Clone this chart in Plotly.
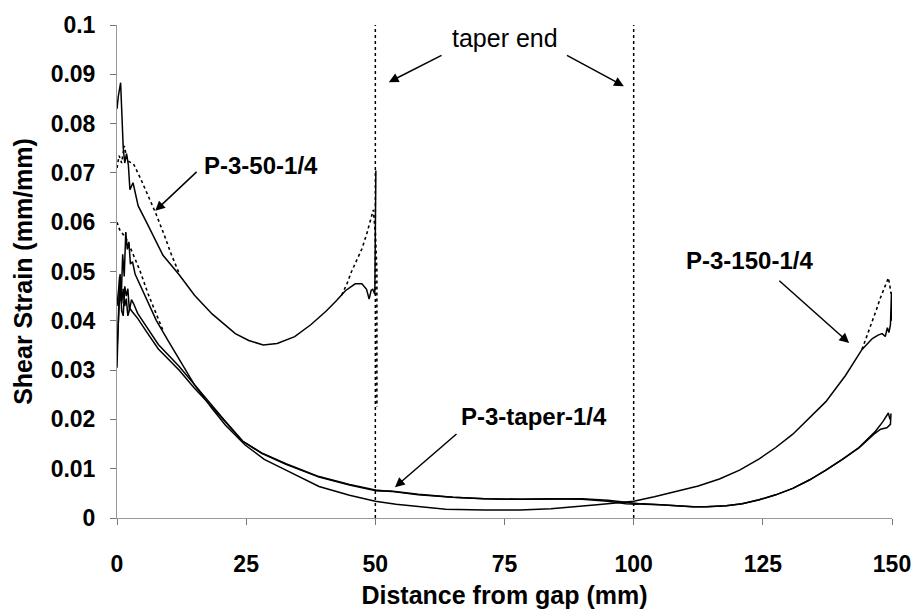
import plotly.graph_objects as go

# ---------------- data ----------------
p50_x = [0, 0.25, 0.7, 1.0, 1.2, 1.5, 1.85, 2.2, 2.5, 3.1, 4.1, 5.7, 8.9, 12.0, 15.0, 18.4, 22.9, 25.5, 28.3, 31.0, 34.4, 37.5, 40.5, 42.5, 44.2, 46.1, 47.4, 48.3, 48.8, 49.2, 49.5, 49.9, 50.1]
p50_y = [0.083, 0.0855, 0.0883, 0.082, 0.0752, 0.072, 0.0739, 0.0716, 0.0666, 0.068, 0.0633, 0.060, 0.0533, 0.0494, 0.0452, 0.0414, 0.0374, 0.0360, 0.0351, 0.0354, 0.0368, 0.0392, 0.0420, 0.0441, 0.0461, 0.0475, 0.0475, 0.0464, 0.0444, 0.0462, 0.0464, 0.0454, 0.0705]

p50d_left_x = [0, 0.4, 0.9, 1.4, 2.0, 2.6, 3.2, 4.5, 6.0, 7.5, 9.0, 10.5, 12.0]
p50d_left_y = [0.071, 0.0735, 0.072, 0.0755, 0.0725, 0.0722, 0.0718, 0.069, 0.0655, 0.0618, 0.0578, 0.0535, 0.0497]
p50d_right_x = [43.5, 44.5, 45.4, 46.5, 47.4, 48.3, 49.0, 49.6, 50.0, 50.3, 50.3]
p50d_right_y = [0.0452, 0.0475, 0.050, 0.0525, 0.0546, 0.0575, 0.0600, 0.0625, 0.058, 0.050, 0.0225]

p150_x = [0, 0.2, 0.5, 0.8, 1.1, 1.4, 1.7, 2.0, 2.3, 2.6, 3.0, 3.5, 4.4, 6.0, 7.6, 10.0, 12.05, 15.0, 18.4, 21.0, 24.8, 28.5, 32.7, 39.1, 45.0, 50.0, 54.0, 58.3, 63.6, 71.1, 78.0, 84.0, 88.0, 92.9, 97.0, 100.0, 104.0, 108.3, 112.5, 116.6, 120.5, 124.3, 127.5, 130.8, 134.0, 137.2, 141.0, 144.2, 146.2, 147.3, 148.1, 148.7, 149.1, 149.4, 149.7, 149.9, 150.0]
p150_y = [0.0305, 0.037, 0.049, 0.044, 0.0535, 0.049, 0.058, 0.0545, 0.056, 0.0515, 0.052, 0.0495, 0.0474, 0.0435, 0.0401, 0.0358, 0.0321, 0.0270, 0.0222, 0.0188, 0.0148, 0.0119, 0.0097, 0.0064, 0.0046, 0.0034, 0.0028, 0.0023, 0.0018, 0.0016, 0.0016, 0.0019, 0.0022, 0.0027, 0.0031, 0.0034, 0.0043, 0.0054, 0.0065, 0.0079, 0.0097, 0.0120, 0.0143, 0.0170, 0.0202, 0.0236, 0.0289, 0.0342, 0.0364, 0.0371, 0.0374, 0.0368, 0.0386, 0.0376, 0.0392, 0.0458, 0.0400]

p150d_left_x = [0, 0.5, 1.2, 2.0, 3.2, 4.5, 6.0, 7.5, 9.0]
p150d_left_y = [0.060, 0.0585, 0.0575, 0.0562, 0.0533, 0.050, 0.0455, 0.0418, 0.0378]
p150d_right_x = [144.2, 145.2, 146.2, 147.0, 147.7, 148.5, 149.3, 149.6, 149.8]
p150d_right_y = [0.0342, 0.037, 0.040, 0.0423, 0.0445, 0.0467, 0.0487, 0.047, 0.0455]

taperA_x = [0, 0.3, 0.6, 0.9, 1.2, 1.5, 1.8, 2.1, 2.4, 2.8, 3.2, 4.0, 5.7, 8.0, 12.0, 15.0, 18.4, 21.0, 24.3, 28.0, 32.7, 39.1, 45.0, 50.0, 53.0, 58.3, 65.0, 71.1, 78.0, 84.0, 90.0, 95.0, 98.0, 100.0, 102.0, 105.1, 108.0, 111.5, 114.0, 117.9, 121.0, 124.3, 127.5, 130.8, 134.0, 137.2, 140.4, 143.6, 146.8, 148.2, 149.3, 149.6]
taperA_y = [0.043, 0.046, 0.0495, 0.042, 0.041, 0.047, 0.045, 0.0465, 0.042, 0.0443, 0.0435, 0.0415, 0.0388, 0.0352, 0.0308, 0.0270, 0.0229, 0.0196, 0.0156, 0.0132, 0.0110, 0.0084, 0.0068, 0.0057, 0.0054, 0.0047, 0.0042, 0.0039, 0.0038, 0.0039, 0.0039, 0.0036, 0.0033, 0.0030, 0.0028, 0.0027, 0.0025, 0.0023, 0.0023, 0.0025, 0.0029, 0.0037, 0.0047, 0.0060, 0.0077, 0.0097, 0.0119, 0.0143, 0.0176, 0.0195, 0.0213, 0.0200]

taperB_x = [0, 0.3, 0.6, 0.9, 1.2, 1.5, 1.8, 2.1, 2.5, 3.0, 4.0, 5.7, 8.0, 12.0, 15.0, 18.4, 21.0, 24.3, 28.0, 32.7, 39.1, 45.0, 49.0, 50.5, 53.0, 58.3, 65.0, 71.1, 78.0, 84.0, 90.0, 95.0, 98.5, 100.5, 102.0, 105.1, 108.0, 111.5, 114.0, 117.9, 121.0, 124.3, 127.5, 130.8, 134.0, 137.2, 140.4, 143.6, 146.5, 147.8, 149.0, 149.7, 149.8]
taperB_y = [0.034, 0.042, 0.047, 0.0435, 0.0465, 0.043, 0.0445, 0.041, 0.0425, 0.0418, 0.0405, 0.0378, 0.0343, 0.0300, 0.0263, 0.0225, 0.0194, 0.0156, 0.0131, 0.0109, 0.0083, 0.0067, 0.0058, 0.0055, 0.0055, 0.0048, 0.0042, 0.0039, 0.0038, 0.0039, 0.0038, 0.0034, 0.0029, 0.0028, 0.0029, 0.0027, 0.0025, 0.0023, 0.0023, 0.0025, 0.0029, 0.0037, 0.0047, 0.0060, 0.0077, 0.0097, 0.0119, 0.0142, 0.0170, 0.0180, 0.0183, 0.0190, 0.0212]

taper_end_x = [50, 100]
y_range = [0, 0.1]
x_range = [0, 150]
x_ticks = [0, 25, 50, 75, 100, 125, 150]
y_ticks = [0, 0.01, 0.02, 0.03, 0.04, 0.05, 0.06, 0.07, 0.08, 0.09, 0.1]
y_ticktext = ["0", "0.01", "0.02", "0.03", "0.04", "0.05", "0.06", "0.07", "0.08", "0.09", "0.1"]

# labels: (text, x, y)
labels = [("P-3-50-1/4", 27.9, 0.0715), ("P-3-150-1/4", 122.5, 0.0522), ("P-3-taper-1/4", 80.8, 0.0206)]
taper_label = ("taper end", 75, 0.0973)
# arrows: (head_x, head_y, tail_x, tail_y)
arrows = [(7.4, 0.0623, 15.7, 0.0705),
          (141.7, 0.0355, 127.9, 0.0484),
          (53.8, 0.00625, 66.0, 0.0173),
          (52.6, 0.0884, 63.1, 0.094),
          (98.1, 0.0876, 86.8, 0.094)]

FONT = "Liberation Sans, Arial, sans-serif"

fig = go.Figure()

def join(xa, ya, xb, yb):
    return xa + [None] + xb, ya + [None] + yb

solid = dict(color="black", width=1.5)
dotted = dict(color="black", width=1.6, dash="dot")

fig.add_trace(go.Scatter(x=p50_x, y=p50_y, mode="lines", line=solid))
dx, dy = join(p50d_left_x, p50d_left_y, p50d_right_x, p50d_right_y)
fig.add_trace(go.Scatter(x=dx, y=dy, mode="lines", line=dotted, connectgaps=False))
fig.add_trace(go.Scatter(x=p150_x, y=p150_y, mode="lines", line=solid))
dx, dy = join(p150d_left_x, p150d_left_y, p150d_right_x, p150d_right_y)
fig.add_trace(go.Scatter(x=dx, y=dy, mode="lines", line=dotted, connectgaps=False))
fig.add_trace(go.Scatter(x=taperA_x, y=taperA_y, mode="lines", line=solid))
fig.add_trace(go.Scatter(x=taperB_x, y=taperB_y, mode="lines", line=solid))

vx, vy = [], []
for t in taper_end_x:
    vx += [t, t, None]
    vy += [y_range[0], y_range[1], None]
fig.add_trace(go.Scatter(x=vx, y=vy, mode="lines", line=dict(color="black", width=1.5, dash="dot"), connectgaps=False))

for text, x, y in labels:
    fig.add_annotation(x=x, y=y, text=text, showarrow=False,
                       font=dict(family=FONT, size=24, color="black", weight="bold"))
fig.add_annotation(x=taper_label[1], y=taper_label[2], text=taper_label[0], showarrow=False,
                   font=dict(family=FONT, size=25, color="black"))
for hx, hy, tx, ty in arrows:
    fig.add_annotation(x=hx, y=hy, ax=tx, ay=ty, xref="x", yref="y", axref="x", ayref="y",
                       text="", showarrow=True, arrowhead=2, arrowsize=1.3, arrowwidth=1.5,
                       arrowcolor="black")

fig.update_layout(
    width=923, height=616,
    margin=dict(l=117, r=26, t=22, b=91),
    paper_bgcolor="white", plot_bgcolor="white",
    showlegend=False,
    xaxis=dict(range=x_range, tickvals=x_ticks, ticks="outside", ticklen=6, tickcolor="#777",
               showline=True, linecolor="#999", linewidth=1, showgrid=False, zeroline=False,
               tickfont=dict(family=FONT, size=23, color="black", weight="bold"),
               ticklabelstandoff=19,
               title=dict(text="Distance from gap (mm)", standoff=10,
                          font=dict(family=FONT, size=25, color="black", weight="bold"))),
    yaxis=dict(range=y_range, tickvals=y_ticks, ticktext=y_ticktext, ticks="outside", ticklen=6,
               tickcolor="#777", showline=True, linecolor="#999", linewidth=1, showgrid=False,
               zeroline=False, ticklabelstandoff=10,
               tickfont=dict(family=FONT, size=23, color="black", weight="bold"),
               title=dict(text="Shear Strain (mm/mm)", standoff=10,
                          font=dict(family=FONT, size=25, color="black", weight="bold"))),
)

fig.write_html("out.html")
